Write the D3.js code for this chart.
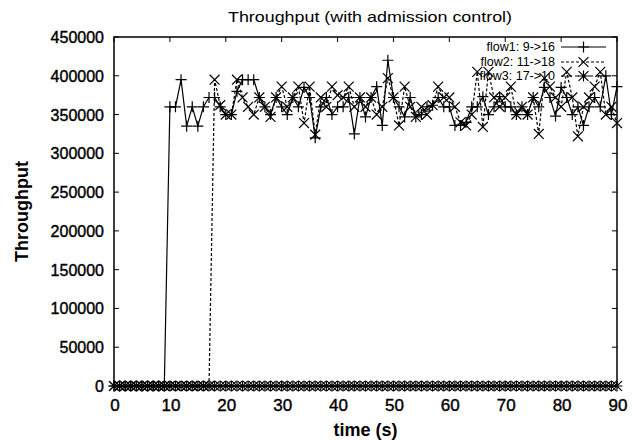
<!DOCTYPE html>
<html><head><meta charset="utf-8">
<script src="https://cdn.jsdelivr.net/npm/d3@7"></script>
<style>body{margin:0;background:#fff;} svg{display:block;} text{font-family:"Liberation Sans",Arial,sans-serif;fill:#000;}</style>
</head><body><svg id="c" width="632" height="441"></svg>
<script>
const title = "Throughput (with admission control)";
const xLabel = "time (s)";
const yLabel = "Throughput";
const xTicks = [0,10,20,30,40,50,60,70,80,90];
const yTicks = [0,50000,100000,150000,200000,250000,300000,350000,400000,450000];
const seriesNames = ["flow1: 9->16","flow2: 11->18","flow3: 17->10"];

// flow1: t = 0..90 (1 s samples)
const flow1 = [0,0,0,0,0,0,0,0,0,0,
  360000,360000,395000,335000,360000,335000,360000,372000,372000,360000,
  350000,350000,380000,395000,395000,395000,372000,360000,350000,372000,
  360000,350000,372000,360000,385000,372000,320000,360000,372000,350000,
  360000,360000,372000,325000,372000,347000,372000,386000,336000,420000,
  372000,360000,347000,372000,347000,350000,360000,362000,372000,360000,
  360000,336000,336000,340000,360000,360000,373000,350000,360000,373000,
  360000,360000,350000,360000,350000,372000,360000,385000,372000,348000,
  385000,372000,350000,360000,336000,360000,372000,360000,400000,350000,
  386000];
// flow2: t = 0..90
const flow2 = [0,0,0,0,0,0,0,0,0,0,
  0,0,0,0,0,0,0,0,395000,362000,
  350000,350000,395000,372000,360000,350000,372000,360000,347000,372000,
  386000,360000,372000,386000,339000,386000,324000,372000,360000,386000,
  375000,372000,386000,360000,372000,360000,372000,350000,360000,397000,
  372000,336000,386000,360000,347000,360000,350000,362000,386000,372000,
  372000,360000,340000,336000,350000,405000,334000,405000,372000,360000,
  372000,386000,350000,360000,350000,372000,325000,397000,386000,372000,
  360000,405000,372000,322000,360000,372000,386000,405000,350000,360000,
  339000];
// flow3: t = 0..90 (rejected by admission control)
const flow3 = [0,0,0,0,0,0,0,0,0,0, 0,0,0,0,0,0,0,0,0,0,
  0,0,0,0,0,0,0,0,0,0, 0,0,0,0,0,0,0,0,0,0,
  0,0,0,0,0,0,0,0,0,0, 0,0,0,0,0,0,0,0,0,0,
  0,0,0,0,0,0,0,0,0,0, 0,0,0,0,0,0,0,0,0,0,
  0,0,0,0,0,0,0,0,0,0, 0];
const times = d3.range(0, 91, 1);

const svg = d3.select("#c");
const L = 114, R = 617, T = 37, B = 386;
const x = d3.scaleLinear().domain([0,90]).range([L,R]);
const y = d3.scaleLinear().domain([0,450000]).range([B,T]);

// ticks (inward, mirrored)
const tl = 5;
const g = svg.append("g").attr("stroke","#000").attr("stroke-width",1);
xTicks.forEach(t=>{
  g.append("line").attr("x1",x(t)).attr("x2",x(t)).attr("y1",B).attr("y2",B-tl);
  g.append("line").attr("x1",x(t)).attr("x2",x(t)).attr("y1",T).attr("y2",T+tl);
});
yTicks.forEach(t=>{
  g.append("line").attr("x1",L).attr("x2",L+tl).attr("y1",y(t)).attr("y2",y(t));
  g.append("line").attr("x1",R).attr("x2",R-tl).attr("y1",y(t)).attr("y2",y(t));
});
svg.append("g").selectAll("text").data(xTicks).join("text")
  .attr("x",d=>x(d)+1).attr("y",B+25).attr("text-anchor","middle")
  .attr("font-size",17).attr("stroke","#000").attr("stroke-width",0.4).text(d=>d);
svg.append("g").selectAll("text").data(yTicks).join("text")
  .attr("x",L-10).attr("y",d=>y(d)+6).attr("text-anchor","end")
  .attr("font-size",16).attr("stroke","#000").attr("stroke-width",0.4).text(d=>d);

svg.append("text").attr("x",370).attr("y",22).attr("text-anchor","middle")
  .attr("font-size",15).attr("textLength",284).attr("lengthAdjust","spacingAndGlyphs").text(title);
svg.append("text").attr("x",(L+R)/2).attr("y",436).attr("text-anchor","middle")
  .attr("font-size",18).attr("font-weight","bold").text(xLabel);
svg.append("text").attr("transform",`translate(28,${(T+B)/2}) rotate(-90)`)
  .attr("text-anchor","middle").attr("font-size",18).attr("font-weight","bold").text(yLabel);

// markers
function marker(type, s){
  const p = d3.path();
  if(type===0||type===2){ p.moveTo(-s,0);p.lineTo(s,0);p.moveTo(0,-s);p.lineTo(0,s); }
  if(type===1||type===2){ const k=s*0.9; p.moveTo(-k,-k);p.lineTo(k,k);p.moveTo(-k,k);p.lineTo(k,-k); }
  return p.toString();
}
const dashes = [null,"3,2","4,3"];
const data = [flow1, flow2, flow3];

// legend
const legY = [47,62,76];
seriesNames.forEach((n,i)=>{
  svg.append("text").attr("x",555).attr("y",legY[i]+4).attr("text-anchor","end")
    .attr("font-size",12.5).text(n);
  svg.append("line").attr("x1",561).attr("x2",606).attr("y1",legY[i]).attr("y2",legY[i])
    .attr("stroke","#000").attr("stroke-width",1.2).attr("stroke-dasharray",dashes[i]);
  svg.append("path").attr("transform",`translate(583.5,${legY[i]})`)
    .attr("d",marker(i,5.5)).attr("stroke","#000").attr("stroke-width",1.2).attr("fill","none");
});

const line = d3.line().x((d,i)=>x(times[i])).y(d=>y(d));
data.forEach((vals,i)=>{
  svg.append("path").attr("d",line(vals)).attr("fill","none").attr("stroke","#000")
    .attr("stroke-width",1.2).attr("stroke-dasharray",dashes[i]);
  svg.append("g").selectAll("path").data(vals).join("path")
    .attr("transform",(d,j)=>`translate(${x(times[j])},${y(d)})`)
    .attr("d",marker(i,5.5)).attr("stroke","#000").attr("stroke-width",1.2).attr("fill","none");
});

// frame
svg.append("rect").attr("x",L).attr("y",T).attr("width",R-L).attr("height",B-T)
  .attr("fill","none").attr("stroke","#000").attr("stroke-width",1.5);
</script></body></html>
